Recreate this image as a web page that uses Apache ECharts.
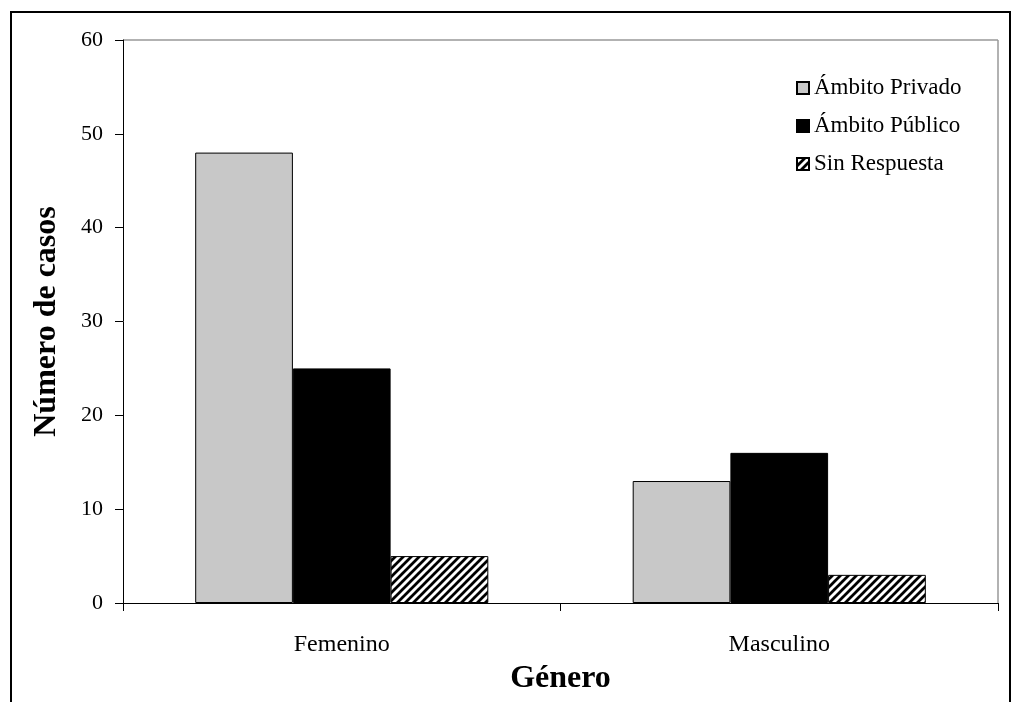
<!DOCTYPE html>
<html><head><meta charset="utf-8">
<script src="https://cdn.jsdelivr.net/npm/echarts@6/dist/echarts.min.js"></script>
<style>html,body{margin:0;padding:0;background:#fff}#c{width:1015px;height:702px}</style>
</head><body><div id="c"></div>
<script>
const categories = ['Femenino', 'Masculino'];
const seriesNames = ['Ámbito Privado', 'Ámbito Público', 'Sin Respuesta'];
const privado = [48, 13];
const publico = [25, 16];
const sinResp = [5, 3];
const yTicks = [0, 10, 20, 30, 40, 50, 60];

function hatch() {
  const c = document.createElement('canvas');
  c.width = 8; c.height = 8;
  const g = c.getContext('2d');
  g.fillStyle = '#fff'; g.fillRect(0, 0, 8, 8);
  g.strokeStyle = '#000'; g.lineWidth = 2.8;
  g.beginPath();
  g.moveTo(-2, 10); g.lineTo(10, -2);
  g.moveTo(-6, 6); g.lineTo(6, -6);
  g.moveTo(2, 14); g.lineTo(14, 2);
  g.stroke();
  return c;
}
const hatchPattern = { image: hatch(), repeat: 'repeat' };

const font = '"Liberation Serif", "Times New Roman", serif';
const chart = echarts.init(document.getElementById('c'), null, { renderer: 'canvas' });
const mk = (name, data, color) => ({
  name, type: 'bar', data, barGap: '0%', barCategoryGap: '33%',
  itemStyle: { color, borderColor: '#000', borderWidth: 1 },
  emphasis: { disabled: true }
});
chart.setOption({
  animation: false,
  textStyle: { fontFamily: font },
  graphic: [
    { type: 'rect', shape: { x: 11, y: 12, width: 999, height: 720 }, style: { fill: 'none', stroke: '#000', lineWidth: 2 }, silent: true },
    { type: 'line', shape: { x1: 123, y1: 40, x2: 998, y2: 40 }, style: { stroke: '#999', lineWidth: 1.5 }, silent: true },
    { type: 'line', shape: { x1: 998, y1: 40, x2: 998, y2: 603 }, style: { stroke: '#999', lineWidth: 1.5 }, silent: true }
  ],
  grid: { left: 123, top: 40, width: 875, height: 563, containLabel: false },
  legend: {
    orient: 'vertical', left: 796, top: 76, itemGap: 14, padding: 0,
    itemWidth: 12, itemHeight: 12, icon: 'rect',
    textStyle: { fontFamily: font, fontSize: 23, lineHeight: 24, color: '#000' },
    data: seriesNames
  },
  xAxis: {
    type: 'category', data: categories,
    name: 'Género', nameLocation: 'middle', nameGap: 60,
    nameTextStyle: { fontFamily: font, fontSize: 32, fontWeight: 'bold', color: '#000' },
    axisLine: { lineStyle: { color: '#000', width: 1 } },
    axisTick: { show: true, length: 8, inside: false, alignWithLabel: false, lineStyle: { color: '#000' } },
    axisLabel: { fontFamily: font, fontSize: 24, color: '#000', margin: 30 },
    splitLine: { show: false }
  },
  yAxis: {
    type: 'value', min: 0, max: 60, interval: 10,
    name: 'Número de casos', nameLocation: 'middle', nameGap: 60, nameRotate: 90,
    nameTextStyle: { fontFamily: font, fontSize: 32, fontWeight: 'bold', color: '#000' },
    axisLine: { show: true, lineStyle: { color: '#000', width: 1 } },
    axisTick: { show: true, length: 8, lineStyle: { color: '#000' } },
    axisLabel: { fontFamily: font, fontSize: 22, color: '#000', margin: 20,
      formatter: v => yTicks.includes(v) ? String(v) : '' },
    splitLine: { show: false }
  },
  series: [
    mk(seriesNames[0], privado, '#c8c8c8'),
    mk(seriesNames[1], publico, '#000000'),
    mk(seriesNames[2], sinResp, hatchPattern)
  ]
});
</script></body></html>
